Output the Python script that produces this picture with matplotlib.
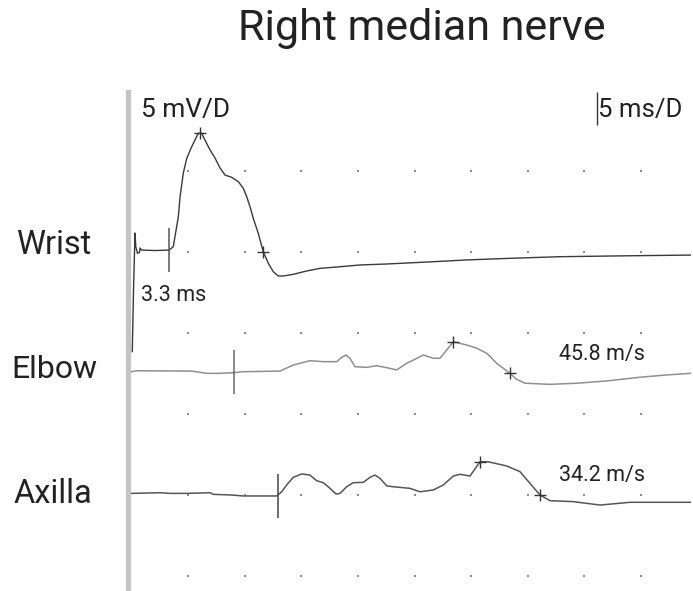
import matplotlib
matplotlib.use("Agg")
import matplotlib.pyplot as plt
import numpy as np

plt.rcParams['font.family'] = ['Roboto', 'DejaVu Sans']

# ---- data (time in ms, amplitude in mV; 5 ms/D, 5 mV/D) ----
wrist_t = [0.06, 0.17, 0.30, 0.37, 0.52, 0.70, 0.74, 0.89, 2.07, 3.33, 3.68, 3.83, 4.13, 4.28,
           4.57, 4.87, 5.31, 5.89, 6.19, 6.48, 6.93, 7.37, 7.81, 8.25, 8.84, 9.43, 9.87, 10.17,
           10.46, 10.75, 11.19, 11.63, 12.08, 12.52, 12.96, 13.40, 14.28, 15.47, 16.64, 18.41,
           20.19, 22.54, 24.89, 26.63, 29.60, 33.43, 37.84, 44.29, 49.35]
wrist_v = [-6.15, -2.35, 1.17, 0.33, -0.08, -0.03, 0.25, 0.12, 0.09, 0.12, 0.33, 0.94, 2.18, 3.41,
           4.88, 5.78, 6.50, 7.33, 7.33, 6.91, 6.30, 5.80, 5.19, 4.75, 4.61, 4.34, 3.93, 3.41,
           2.80, 2.08, 1.15, 0.02, -0.70, -1.22, -1.48, -1.48, -1.38, -1.17, -1.01, -0.91,
           -0.80, -0.74, -0.66, -0.60, -0.49, -0.39, -0.29, -0.23, -0.19]

elbow_t = [0.01, 0.45, 5.31, 6.63, 7.81, 8.98, 9.87, 13.11, 14.28, 15.76, 16.93, 18.12, 18.56,
           18.94, 19.29, 19.73, 20.77, 21.65, 22.54, 23.42, 24.30, 24.89, 25.77, 26.65, 27.24,
           27.84, 28.42, 29.60, 30.49, 31.37, 32.25, 32.84, 33.43, 34.02, 34.75, 36.96, 39.32,
           41.97, 44.91, 47.27, 49.35]
elbow_v = [-7.39, -7.33, -7.35, -7.49, -7.49, -7.45, -7.39, -7.35, -6.98, -6.71, -6.77, -6.77, -6.50,
           -6.36, -6.56, -7.08, -7.12, -7.02, -7.14, -7.28, -6.87, -6.67, -6.36, -6.56, -6.56,
           -6.05, -5.54, -5.74, -5.94, -6.25, -6.87, -7.18, -7.49, -7.86, -8.10, -8.17, -8.10,
           -7.96, -7.73, -7.59, -7.49]

axilla_t = [0.01, 2.51, 3.39, 4.87, 6.93, 7.22, 8.84, 9.87, 12.82, 13.26, 13.70, 14.28, 15.03,
            15.76, 16.35, 16.93, 17.53, 18.06, 18.41, 19.00, 19.58, 20.47, 21.06, 21.50, 21.94,
            22.54, 23.12, 24.59, 25.48, 26.65, 27.54, 28.42, 29.01, 29.89, 30.78, 31.51, 33.14,
            34.31, 35.19, 36.08, 36.96, 39.02, 41.38, 44.03, 49.35]
axilla_v = [-14.90, -14.86, -14.90, -14.90, -14.86, -14.96, -15.00, -15.06, -15.06, -14.80, -14.38,
            -13.91, -13.70, -13.77, -14.12, -14.24, -14.59, -14.94, -14.90, -14.49, -14.24, -14.22,
            -13.91, -13.77, -13.97, -14.44, -14.49, -14.59, -14.80, -14.69, -14.38, -13.83, -13.72,
            -13.83, -12.95, -12.95, -13.21, -13.56, -14.28, -15.00, -15.35, -15.41, -15.62, -15.45,
            -15.45]

# cursor marks (+) : peak and end
wrist_marks_t = [6.04, 11.63]
wrist_marks_v = [7.35, 0.02]
elbow_marks_t = [28.42, 33.43]
elbow_marks_v = [-5.54, -7.49]
axilla_marks_t = [30.78, 36.08]
axilla_marks_v = [-12.95, -15.00]

# onset latency marks (t, baseline)
onset_t = [3.33, 9.07, 12.90]
onset_base = [0.12, -7.43, -15.06]
onset_half = 1.35

site_labels = ["Wrist", "Elbow", "Axilla"]
velocity_labels = ["45.8 m/s", "34.2 m/s"]
latency_label = "3.3 ms"

grid_t = [5, 10, 15, 20, 25, 30, 35, 40, 45]
grid_v = [5, 0, -5, -10, -15, -20]

# ---- figure ----
W, H = 693, 591
fig = plt.figure(figsize=(W / 100, H / 100), dpi=100)
ax = fig.add_axes([0, 0, 1, 1])
x0_px, sx = 131.6, 11.32   # pixel of t=0, px per ms
y0_px, sy = 252.0, 16.2    # pixel of 0 mV, px per mV
ax.set_xlim(-x0_px / sx, (W - x0_px) / sx)
ax.set_ylim(-(H - y0_px) / sy, y0_px / sy)
ax.axis('off')

# grid dots
gx, gy = np.meshgrid(grid_t, grid_v)
ax.scatter(gx.ravel(), gy.ravel(), s=2.5, color='#8c8c8c', marker='s', linewidths=0, zorder=1)

# gray left bar
ax.axvline(-0.36, ymin=0, ymax=(H - 92) / H, color='#c4c4c4', lw=3.8, zorder=2)

# traces
ax.plot(wrist_t, wrist_v, color='#3a3a3a', lw=1.0, zorder=3)
ax.plot(elbow_t, elbow_v, color='#8f8f8f', lw=1.1, zorder=3)
ax.plot(axilla_t, axilla_v, color='#555555', lw=1.1, zorder=3)

# cursors
for mt, mv in [(wrist_marks_t, wrist_marks_v), (elbow_marks_t, elbow_marks_v),
               (axilla_marks_t, axilla_marks_v)]:
    ax.plot(mt, mv, linestyle='none', marker='+', markersize=8, mew=1.0,
            color='#333333', zorder=4)

onset_colors = ['#555555', '#666666', '#444444']
for t, b, c in zip(onset_t, onset_base, onset_colors):
    ax.vlines(t, b - onset_half, b + onset_half, color=c, lw=1.1, zorder=4)

# time-scale cursor line
ax.vlines(41.1, (y0_px - 125) / sy, (y0_px - 92) / sy, color='#333333', lw=1.0, zorder=4)

# texts
tc = '#222222'
def ft(x, y, s, size, ha='left'):
    fig.text(x / W, 1 - y / H, s, fontsize=size, color=tc, ha=ha, va='baseline')

ft(422, 40, "Right median nerve", 31, ha='center')
ft(16, 254, site_labels[0], 23.5)
ft(11, 378, site_labels[1], 23)
ft(14, 503, site_labels[2], 23.5)
ft(141, 117, "5 mV/D", 19)
ft(598, 117, "5 ms/D", 18.5)
ft(141, 301, latency_label, 15.5)
ft(559, 360, velocity_labels[0], 15.5)
ft(559, 481, velocity_labels[1], 15.5)

fig.savefig("out.png", dpi=100)
